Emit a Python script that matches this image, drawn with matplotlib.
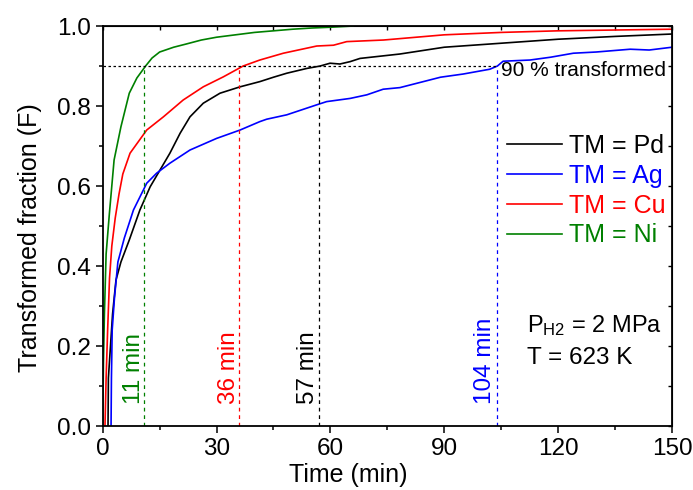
import numpy as np
import matplotlib
matplotlib.use('Agg')
import matplotlib.pyplot as plt
from matplotlib.ticker import MultipleLocator

plt.rcParams['font.family'] = ['Liberation Sans', 'DejaVu Sans']
plt.rcParams['mathtext.default'] = 'regular'

# data (time in min, transformed fraction)
t_pd = [1.4, 1.5, 2.6, 3.5, 4.8, 7, 9.8, 12.5, 15.1, 17.7, 20.4, 23, 26.5, 30.9, 36.2,
        41.4, 45, 48.5, 53.8, 57.3, 59.9, 62.5, 65.2, 67.8, 78.3, 90, 105, 120, 135, 150]
f_pd = [0.0, 0.12, 0.28, 0.365, 0.41, 0.465, 0.54, 0.598, 0.64, 0.682, 0.732, 0.773,
        0.807, 0.832, 0.848, 0.861, 0.872, 0.882, 0.894, 0.90, 0.907, 0.905, 0.911, 0.919,
        0.93, 0.947, 0.957, 0.967, 0.974, 0.98]

t_ag = [2.2, 2.3, 2.5, 3.1, 4, 5.7, 8.1, 11.6, 14.2, 17.7, 23, 30, 36.2, 41.4, 43.2,
        48.5, 56.4, 59, 65.2, 69.6, 73.9, 78.3, 89, 95, 102, 104, 105.5, 112.6, 118, 124,
        130, 139, 144, 150]
f_ag = [0.0, 0.12, 0.24, 0.32, 0.41, 0.47, 0.54, 0.607, 0.632, 0.657, 0.69, 0.719, 0.74,
        0.761, 0.767, 0.778, 0.803, 0.811, 0.819, 0.828, 0.842, 0.846, 0.872, 0.88, 0.892,
        0.90, 0.912, 0.915, 0.922, 0.932, 0.935, 0.942, 0.94, 0.947]

t_cu = [0.6, 0.9, 1.3, 1.8, 2.4, 3.3, 4.3, 5.3, 7.2, 11.6, 16, 21.2, 26.5, 31.8, 37,
        41.4, 47.6, 56.4, 60.8, 64.3, 74, 90, 105, 120, 135, 150]
f_cu = [0.0, 0.12, 0.24, 0.37, 0.45, 0.52, 0.58, 0.63, 0.682, 0.74, 0.773, 0.815, 0.848,
        0.873, 0.90, 0.915, 0.932, 0.95, 0.952, 0.961, 0.965, 0.978, 0.984, 0.988, 0.99,
        0.992]

t_ni = [0.0, 0.2, 0.45, 0.9, 1.75, 3, 4.8, 7, 9, 11.3, 13, 15, 18.7, 22, 26, 30, 35, 40,
        45, 50, 55, 60, 66]
f_ni = [0.0, 0.16, 0.28, 0.43, 0.53, 0.665, 0.748, 0.832, 0.87, 0.90, 0.92, 0.935, 0.947,
        0.955, 0.965, 0.972, 0.978, 0.984, 0.988, 0.992, 0.995, 0.997, 1.0]

t90 = [11, 36, 57, 104]
t90_labels = ['11 min', '36 min', '57 min', '104 min']
t90_label_x = [8.2, 33.2, 54, 100.8]

series = [('TM = Pd', t_pd, f_pd, 'black'),
          ('TM = Ag', t_ag, f_ag, '#0000FF'),
          ('TM = Cu', t_cu, f_cu, '#FF0000'),
          ('TM = Ni', t_ni, f_ni, '#008000')]
c90 = ['#008000', '#FF0000', 'black', '#0000FF']

fig = plt.figure(figsize=(6.93, 4.9), dpi=100)
ax = fig.add_axes([0.1482, 0.1306, 0.8215, 0.8163])

for name, t, f, c in series:
    ax.plot(t, f, color=c, lw=1.2, label=name)

ax.plot([0, 104], [0.9, 0.9], color='black', lw=0.9, ls=(0, (2, 2)))
for tt, c, lab, lx in zip(t90, c90, t90_labels, t90_label_x):
    ax.plot([tt, tt], [0, 0.9], color=c, lw=0.9, ls=(0, (3, 3)))
    ax.text(lx, 0.055, lab, color=c, rotation=90, ha='center', va='bottom', fontsize=17.5)

ax.text(105, 0.913, '90 % transformed', fontsize=15, ha='left', va='top')
ax.text(0.746, 0.25, r'P$_{H2}$ = 2 MPa', transform=ax.transAxes, fontsize=17, va='center')
ax.text(0.746, 0.17, 'T = 623 K', transform=ax.transAxes, fontsize=17.5, va='center')

leg = ax.legend(loc='center left', bbox_to_anchor=(0.71, 0.588), frameon=False,
                fontsize=18, handlelength=2.2, handletextpad=0.28, labelspacing=0.23,
                borderpad=0, borderaxespad=0)
for txt, (_, _, _, c) in zip(leg.get_texts(), series):
    txt.set_color(c)

ax.set_xlim(0, 150)
ax.set_ylim(0, 1.0)
ax.xaxis.set_major_locator(MultipleLocator(30))
ax.xaxis.set_minor_locator(MultipleLocator(15))
ax.yaxis.set_major_locator(MultipleLocator(0.2))
ax.yaxis.set_minor_locator(MultipleLocator(0.1))
ax.yaxis.set_major_formatter(plt.FuncFormatter(lambda v, p: '%.1f' % v))
ax.tick_params(which='major', direction='out', length=5, width=1.1, labelsize=17.5)
ax.tick_params(which='minor', direction='out', length=3, width=1.1)
for s in ax.spines.values():
    s.set_linewidth(1.3)

ax.set_xlabel('Time (min)', fontsize=18)
ax.xaxis.set_label_coords(0.431, -0.093)
ax.xaxis.label.set_va('top')
ax.set_ylabel('Transformed fraction (F)', fontsize=18)
ax.yaxis.set_label_coords(-0.107, 0.47)

# opposite axes with inward ticks, no labels
ax2 = ax.secondary_xaxis('top')
ax2.xaxis.set_major_locator(MultipleLocator(30))
ax2.xaxis.set_minor_locator(MultipleLocator(15))
ax2.tick_params(which='both', direction='in', length=3, width=1, labeltop=False)
ax3 = ax.secondary_yaxis('right')
ax3.yaxis.set_major_locator(MultipleLocator(0.2))
ax3.yaxis.set_minor_locator(MultipleLocator(0.1))
ax3.tick_params(which='both', direction='in', length=3, width=1, labelright=False)

fig.savefig('out.png', dpi=100)
